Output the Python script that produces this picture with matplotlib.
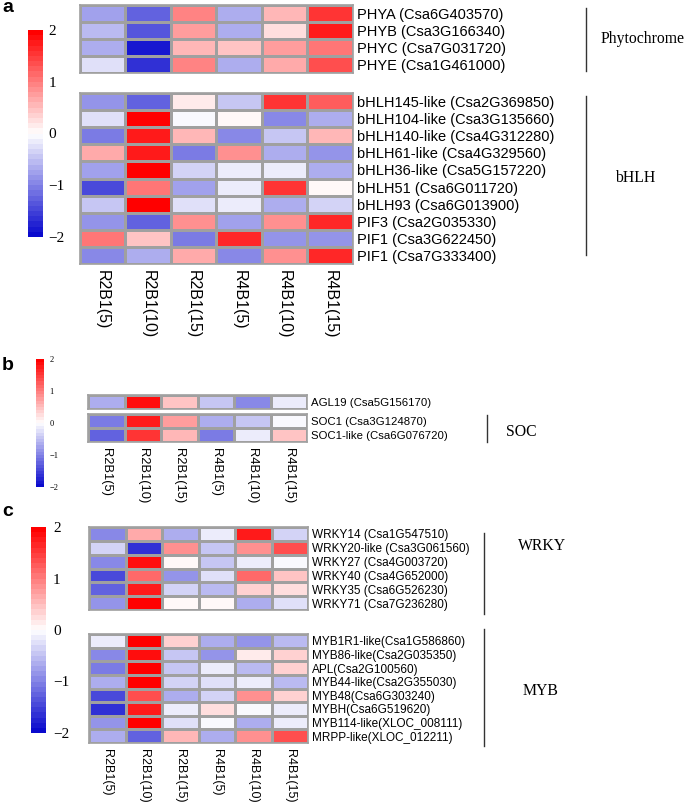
import numpy as np
import matplotlib
matplotlib.use('Agg')
import matplotlib.pyplot as plt
from matplotlib.colors import LinearSegmentedColormap
import matplotlib.transforms as mtransforms

# ---- data ----
samples = ['R2B1(5)', 'R2B1(10)', 'R2B1(15)', 'R4B1(5)', 'R4B1(10)', 'R4B1(15)']

phy_genes = ['PHYA (Csa6G403570)', 'PHYB (Csa3G166340)',
             'PHYC (Csa7G031720)', 'PHYE (Csa1G461000)']
phy_vals = [[-0.8, -1.3, 0.9, -0.7, 0.5, 1.5],
            [-0.6, -1.4, 0.7, -0.7, 0.25, 1.7],
            [-0.7, -1.9, 0.5, 0.4, 0.7, 1.0],
            [-0.3, -1.6, 0.9, -0.7, 0.6, 1.3]]

bhlh_genes = ['bHLH145-like (Csa2G369850)', 'bHLH104-like (Csa3G135660)',
              'bHLH140-like (Csa4G312280)', 'bHLH61-like (Csa4G329560)',
              'bHLH36-like (Csa5G157220)', 'bHLH51 (Csa6G011720)',
              'bHLH93 (Csa6G013900)', 'PIF3 (Csa2G035330)',
              'PIF1 (Csa3G622450)', 'PIF1 (Csa7G333400)']
bhlh_vals = [[-0.9, -1.3, 0.1, -0.5, 1.5, 1.2],
             [-0.3, 1.9, -0.1, 0.05, -1.0, -0.7],
             [-1.1, 1.7, 0.5, -1.0, -0.5, 0.5],
             [0.6, 1.7, -1.1, 0.8, -0.7, -0.9],
             [-0.8, 2.0, -0.4, -0.15, -0.2, -0.7],
             [-1.5, 1.0, -0.8, -0.2, 1.5, 0.05],
             [-0.5, 2.0, -0.3, -0.2, -0.7, -0.4],
             [-0.9, -1.3, 0.8, -0.8, 0.8, 1.6],
             [1.0, 0.4, -1.1, 1.6, -0.9, -0.9],
             [-1.0, -0.7, 0.6, -1.0, 0.8, 1.6]]

agl_genes = ['AGL19 (Csa5G156170)']
agl_vals = [[-0.7, 1.8, 0.4, -0.5, -1.0, -0.15]]

soc_genes = ['SOC1 (Csa3G124870)', 'SOC1-like (Csa6G076720)']
soc_vals = [[-1.1, 1.7, 0.7, -0.7, -0.5, -0.05],
            [-1.3, 1.5, 0.5, -1.1, -0.2, 0.4]]

wrky_genes = ['WRKY14 (Csa1G547510)', 'WRKY20-like (Csa3G061560)',
              'WRKY27 (Csa4G003720)', 'WRKY40 (Csa4G652000)',
              'WRKY35 (Csa6G526230)', 'WRKY71 (Csa7G236280)']
wrky_vals = [[-1.0, 0.6, -0.7, -0.15, 1.7, -0.4],
             [-0.4, -1.6, 0.8, -0.5, 0.8, 1.3],
             [-1.0, 1.8, 0.05, -0.5, -0.15, -0.05],
             [-1.5, 1.1, -0.9, -0.3, 1.1, 0.4],
             [-1.3, 1.7, -0.4, -0.6, 0.3, 0.2],
             [-0.9, 1.9, 0.05, 0.05, -0.7, -0.3]]

myb_genes = ['MYB1R1-like(Csa1G586860)', 'MYB86-like(Csa2G035350)',
             'APL(Csa2G100560)', 'MYB44-like(Csa2G355030)',
             'MYB48(Csa6G303240)', 'MYBH(Csa6G519620)',
             'MYB114-like(XLOC_008111)', 'MRPP-like(XLOC_012211)']
myb_vals = [[-0.15, 1.9, 0.3, -0.7, -0.9, -0.6],
            [-1.0, 1.8, -0.5, -0.9, 0.1, 0.3],
            [-1.1, 1.9, -0.5, -0.15, -0.6, 0.3],
            [-0.7, 1.95, -0.35, -0.3, -0.15, -0.6],
            [-1.5, 1.3, -0.7, -0.4, 0.8, 0.3],
            [-1.6, 1.7, -0.15, 0.2, -0.05, -0.15],
            [-0.9, 1.9, -0.3, -0.05, -0.7, -0.15],
            [-0.7, -1.3, 0.5, -0.7, 0.8, 1.3]]

cbar_ticks = [-2, -1, 0, 1, 2]

# ---- style ----
W, H = 685, 806
fig = plt.figure(figsize=(W/100, H/100), dpi=100)
cmap = LinearSegmentedColormap.from_list('bwr2', ['#0A0ACD', '#FFFFFF', '#FF0000'], N=40)
sans = 'Liberation Sans'
serif = 'Liberation Serif'
edge = '#A0A0A0'


def px_axes(x0, y0, x1, y1):
    return fig.add_axes([x0/W, 1 - y1/H, (x1 - x0)/W, (y1 - y0)/H])


def heat(box, vals, genes, fs, xlab_fs=None):
    ax = px_axes(*box)
    vals = np.array(vals)
    ax.pcolormesh(vals, cmap=cmap, vmin=-2, vmax=2, edgecolors=edge, linewidth=0.9)
    ax.set_xlim(0, vals.shape[1])
    ax.set_ylim(vals.shape[0], 0)
    ax.yaxis.tick_right()
    ax.set_yticks(np.arange(len(genes)) + 0.5)
    ax.set_yticklabels(genes, fontsize=fs, family=sans)
    ax.tick_params(axis='y', length=0, pad=3)
    if xlab_fs:
        ax.set_xticks(np.arange(len(samples)) + 0.5)
        ax.set_xticklabels(samples, rotation=-90, fontsize=xlab_fs, family=sans)
        ax.tick_params(axis='x', length=0, pad=4)
    else:
        ax.set_xticks([])
    for s in ax.spines.values():
        s.set_color(edge)
        s.set_linewidth(1.2)
    return ax


def cbar(box, fs, pad):
    cax = px_axes(*box)
    sm = plt.cm.ScalarMappable(cmap=cmap, norm=plt.Normalize(-2, 2))
    cb = fig.colorbar(sm, cax=cax, ticks=cbar_ticks)
    cb.outline.set_visible(False)
    cb.ax.tick_params(length=0, pad=pad)
    cb.ax.set_yticklabels(['\u22122', '\u22121', '0', '1', '2'], fontsize=fs, family=serif)
    return cb


def group(ax, xline, r0, r1, label, xtext, ytext, fs=11.3):
    tr = mtransforms.blended_transform_factory(ax.transAxes, ax.transData)
    ax.plot([xline, xline], [r0, r1], color='#333333', lw=1.0, transform=tr, clip_on=False)
    ax.text(xtext, ytext, label, transform=tr, family=serif, fontsize=fs, va='center', ha='left')


# ---- panel a ----
a1 = heat((80, 5, 353, 73), phy_vals, phy_genes, 10.5)
a2 = heat((80, 93, 353, 264), bhlh_vals, bhlh_genes, 10.5, xlab_fs=11.5)
cbar((28, 30, 43, 237), 11, 4)
group(a1, 1.853, 0.2, 3.9, 'Phytochrome', 1.908, 2.0)
group(a2, 1.853, 0.2, 9.5, 'bHLH', 1.96, 5.0)

# ---- panel b ----
b1 = heat((88, 395, 307, 409), agl_vals, agl_genes, 8.2)
b2 = heat((88, 414, 307, 442), soc_vals, soc_genes, 8.2, xlab_fs=9.3)
cbar((36, 359, 44, 487), 6, 4)
group(b2, 1.82, 0.1, 2.0, 'SOC', 1.91, 1.3)

# ---- panel c ----
c1 = heat((89, 527, 308, 610), wrky_vals, wrky_genes, 8.5)
c2 = heat((89, 634, 308, 743), myb_vals, myb_genes, 8.5, xlab_fs=9.0)
cbar((31, 527, 46, 733), 11, 5)
group(c1, 1.804, 0.4, 6.3, 'WRKY', 1.96, 1.35)
group(c2, 1.804, -0.4, 8.2, 'MYB', 1.98, 4.2)

# ---- panel letters ----
for lab, y in [('a', 8), ('b', 366), ('c', 512)]:
    fig.text(2/W, 1 - y/H, lab, fontsize=14, fontweight='bold', family=sans, va='center', ha='left')

fig.savefig('out.png', dpi=100)
